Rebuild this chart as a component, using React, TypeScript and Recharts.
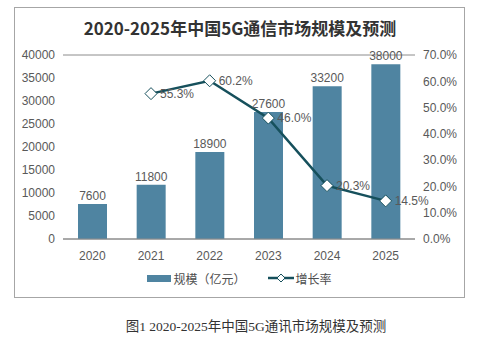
import React from 'react';
import {
  ComposedChart,
  Bar,
  Line,
  XAxis,
  YAxis,
  CartesianGrid,
  Legend,
  LabelList,
} from 'recharts';

const years = ['2020', '2021', '2022', '2023', '2024', '2025'];
const marketSize = [7600, 11800, 18900, 27600, 33200, 38000];
const growthRate = [null, 55.3, 60.2, 46.0, 20.3, 14.5];
const leftTicks = [0, 5000, 10000, 15000, 20000, 25000, 30000, 35000, 40000];
const rightTicks = [0, 10, 20, 30, 40, 50, 60, 70];

const BAR_COLOR = '#4f84a1';
const LINE_COLOR = '#16505c';
const TEXT_COLOR = '#595959';
const FONT = '"Liberation Sans", "Noto Sans CJK SC", sans-serif';

const data = years.map((year, i) => ({
  year,
  size: marketSize[i],
  rate: growthRate[i],
}));

const Diamond = (props: any) => {
  const { cx, cy, payload } = props;
  if (cx == null || cy == null || payload.rate == null) return null;
  const r = 6;
  return (
    <polygon
      points={`${cx},${cy - r} ${cx + r},${cy} ${cx},${cy + r} ${cx - r},${cy}`}
      fill="#fff"
      stroke={LINE_COLOR}
      strokeWidth={1}
    />
  );
};

const LegendContent = () => (
  <div
    style={{
      display: 'flex',
      justifyContent: 'center',
      alignItems: 'center',
      fontFamily: FONT,
      fontSize: 12,
      color: '#4d4d4d',
      height: 18,
    }}
  >
    <span style={{ display: 'inline-block', width: 24, height: 7, background: BAR_COLOR, marginRight: 2 }} />
    <span>规模（亿元）</span>
    <svg width={26} height={12} style={{ marginLeft: 22, marginRight: 2 }}>
      <line x1={0} y1={6} x2={26} y2={6} stroke={LINE_COLOR} strokeWidth={2.5} />
      <polygon points="13,2 17,6 13,10 9,6" fill="#fff" stroke={LINE_COLOR} strokeWidth={1} />
    </svg>
    <span>增长率</span>
  </div>
);

export default function App() {
  return (
    <div style={{ position: 'absolute', left: 0, top: 0, width: 500, height: 356, background: '#fff' }}>
      <div
        style={{
          position: 'absolute',
          left: 14,
          top: 7,
          width: 451,
          height: 291,
          border: '1px solid #a6a6a6',
          boxSizing: 'border-box',
        }}
      />
      <div
        style={{
          position: 'absolute',
          left: 0,
          width: 480,
          top: 16,
          textAlign: 'center',
          fontFamily: '"Noto Sans CJK SC", sans-serif',
          fontWeight: 700,
          fontSize: 17,
          color: '#333',
          lineHeight: '24px',
        }}
      >
        2020-2025年中国5G通信市场规模及预测
      </div>
      <div style={{ position: 'absolute', left: 0, top: 0 }}>
        <ComposedChart
          width={500}
          height={300}
          data={data}
          margin={{ top: 55, right: 35, left: 14, bottom: 0 }}
        >
          <CartesianGrid vertical={false} stroke="#8c8c8c" strokeWidth={1} />
          <XAxis
            dataKey="year"
            height={30}
            tickLine={false}
            axisLine={{ stroke: '#8c8c8c' }}
            tick={{ fill: TEXT_COLOR, fontSize: 12, fontFamily: FONT }}
            tickMargin={6}
          />
          <YAxis
            yAxisId="left"
            width={49}
            domain={[0, 40000]}
            ticks={leftTicks}
            tickLine={false}
            axisLine={false}
            tickSize={0}
            tickMargin={8}
            tick={{ fill: TEXT_COLOR, fontSize: 12, fontFamily: FONT }}
          />
          <YAxis
            yAxisId="right"
            orientation="right"
            width={50}
            domain={[0, 70]}
            ticks={rightTicks}
            tickFormatter={(v: number) => `${v.toFixed(1)}%`}
            tickLine={false}
            axisLine={false}
            tickSize={0}
            tickMargin={8}
            tick={{ fill: TEXT_COLOR, fontSize: 12, fontFamily: FONT }}
          />
          <Bar yAxisId="left" dataKey="size" fill={BAR_COLOR} barSize={29} isAnimationActive={false}>
            <LabelList
              dataKey="size"
              position="top"
              offset={4}
              fill={TEXT_COLOR}
              fontSize={12}
              fontFamily={FONT}
            />
          </Bar>
          <Line
            yAxisId="right"
            dataKey="rate"
            stroke={LINE_COLOR}
            strokeWidth={2.5}
            dot={<Diamond />}
            activeDot={false}
            connectNulls={false}
            isAnimationActive={false}
          >
            <LabelList
              dataKey="rate"
              position="right"
              offset={9}
              formatter={(v: any) => (v == null ? '' : `${Number(v).toFixed(1)}%`)}
              fill={TEXT_COLOR}
              fontSize={12}
              fontFamily={FONT}
            />
          </Line>
          <Legend
            verticalAlign="bottom"
            wrapperStyle={{ height: 31 }}
            content={<LegendContent />}
          />
        </ComposedChart>
      </div>
      <div
        style={{
          position: 'absolute',
          left: 0,
          width: 512,
          top: 318,
          textAlign: 'center',
          fontFamily: '"Liberation Serif", "Noto Sans CJK SC", serif',
          fontSize: 13.5,
          color: '#333',
          lineHeight: '18px',
        }}
      >
        图1 2020-2025年中国5G通讯市场规模及预测
      </div>
    </div>
  );
}
